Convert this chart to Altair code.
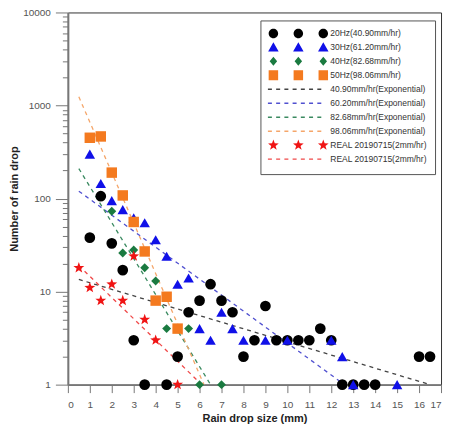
import math
import altair as alt
import pandas as pd

# ---------------- data ----------------
hz20_x = [1, 1.5, 2, 2.5, 3, 3.5, 4.5, 5, 5.5, 6, 6.5, 7, 7.5, 8, 8.5, 9, 9.5, 10, 10.5, 11, 11.5, 12, 12.5, 13, 13.5, 14, 16, 16.5]
hz20_y = [38, 106, 33, 17, 3, 1, 1, 2, 6, 8, 12, 8, 6, 2, 3, 7, 3, 3, 3, 3, 4, 3, 1, 1, 1, 1, 2, 2]

hz30_x = [1, 1.5, 2, 2.5, 3, 3.5, 4, 4.5, 5, 5.5, 6, 6.5, 7, 7.5, 8, 9, 10, 12, 12.5, 13, 15]
hz30_y = [300, 145, 95, 76, 62, 55, 36, 24, 12, 14, 4, 3, 6, 4, 3, 3, 3, 3, 2, 1, 1]

hz40_x = [2, 2.5, 3, 3.5, 4, 4.5, 5.5, 6, 7]
hz40_y = [73, 26, 28, 18, 13, 4, 4, 1, 1]

hz50_x = [1, 1.5, 2, 2.5, 3, 3.5, 4, 4.5, 5]
hz50_y = [450, 465, 190, 108, 56, 27, 8, 8.8, 4]

real_x = [0.5, 1, 1.5, 2, 2.5, 3, 3.5, 4, 5]
real_y = [18, 11, 8, 12, 8, 24, 5, 3, 1]

# exponential trend lines (straight on a log axis): start / end points
fit_names = ["40.90mm/hr(Exponential)", "60.20mm/hr(Exponential)", "82.68mm/hr(Exponential)",
             "98.06mm/hr(Exponential)", "REAL 20190715(2mm/hr) fit"]
fit_x0 = [0.5, 0.5, 0.5, 0.5, 0.5]
fit_y0 = [13.5, 120, 210, 1240, 19]
fit_x1 = [16.5, 12.6, 6.5, 6.2, 6.1]
fit_y1 = [1.0, 1.0, 1.0, 1.0, 1.0]
fit_colors = ["#444444", "#5050d0", "#3a8a60", "#f5a66a", "#f04848"]

legend_names = ["20Hz(40.90mm/hr)", "30Hz(61.20mm/hr)", "40Hz(82.68mm/hr)", "50Hz(98.06mm/hr)",
                "40.90mm/hr(Exponential)", "60.20mm/hr(Exponential)", "82.68mm/hr(Exponential)",
                "98.06mm/hr(Exponential)", "REAL 20190715(2mm/hr)", "REAL 20190715(2mm/hr) fit"]
legend_colors = ["#000000", "#1010e8", "#1a7a40", "#f47a1f",
                 "#444444", "#5050d0", "#3a8a60", "#f5a66a", "#f01414", "#f04848"]

x_ticks = list(range(0, 18))
y_major = [1, 10, 100, 1000, 10000]
y_ticks = sorted(set(y_major + [m * d for d in y_major[:-1] for m in range(2, 10)]))

FONT = "Liberation Sans"

# ---------------- symbol paths ----------------
COLS = [0.0, 5.0, 10.0]
PAD = "M0,-1.33L0,-1.33M0,1.33L0,1.33"


def circ(cx, r=0.95):
    return f"M{cx - r},0A{r},{r} 0 1,0 {cx + r},0A{r},{r} 0 1,0 {cx - r},0Z"


def tri(cx):
    return f"M{cx},-1.05L{cx + 1.05},0.8L{cx - 1.05},0.8Z"


def diam(cx):
    return f"M{cx},-0.9L{cx + 0.75},0L{cx},0.9L{cx - 0.75},0Z"


def sq(cx):
    return f"M{cx - 0.95},-1.0L{cx + 0.95},-1.0L{cx + 0.95},1.0L{cx - 0.95},1.0Z"


def star(cx, R=1.12, r=0.46):
    pts = []
    for k in range(10):
        ang = math.radians(-90 + 36 * k)
        rr = R if k % 2 == 0 else r
        pts.append((cx + rr * math.cos(ang), rr * math.sin(ang)))
    return "M" + "L".join(f"{px:.3f},{py:.3f}" for px, py in pts) + "Z"


def dashes():
    segs = []
    for k in range(7):
        x0 = -1.1 + 1.65 * k
        segs.append(f"M{x0:.2f},-0.14L{x0 + 0.8:.2f},-0.14L{x0 + 0.8:.2f},0.14L{x0:.2f},0.14Z")
    return "".join(segs)


def row(fn):
    return "".join(fn(c) for c in COLS) + PAD


legend_shapes = [row(circ), row(tri), row(diam), row(sq),
                 dashes() + PAD, dashes() + PAD, dashes() + PAD, dashes() + PAD,
                 row(star), dashes() + PAD]
STAR = star(0.0, 1.15, 0.47)

# ---------------- scales / axes ----------------
xscale = alt.Scale(domain=[0, 17], nice=False, zero=False)
yscale = alt.Scale(type="log", domain=[1, 10000], nice=False)

major_test = "indexof([1,10,100,1000,10000], datum.value) >= 0"
x_axis = alt.Axis(title="Rain drop size (mm)", values=x_ticks, format="d", tickSize=8,
                  labelPadding=7, titlePadding=3, grid=False, orient="bottom")
y_axis = alt.Axis(title="Number of rain drop", values=y_ticks, format="d", tickSize=12.5,
                  labelExpr=f"{major_test} ? datum.label : ''", labelOverlap=False,
                  tickDash={"condition": {"test": f"!({major_test})", "value": [5.5, 30]},
                            "value": [14, 1]},
                  labelPadding=5, titlePadding=3, grid=False, orient="left")


def points(xs, ys, shape, color, size):
    df = pd.DataFrame({"x": xs, "y": ys})
    return alt.Chart(df).mark_point(shape=shape, filled=True, opacity=1, size=size, color=color,
                                    strokeWidth=0).encode(
        x=alt.X("x:Q", scale=xscale, axis=x_axis),
        y=alt.Y("y:Q", scale=yscale, axis=y_axis),
    )


layers = []
for i in range(len(fit_names)):
    df = pd.DataFrame({"x": [fit_x0[i], fit_x1[i]], "y": [fit_y0[i], fit_y1[i]]})
    layers.append(alt.Chart(df).mark_line(color=fit_colors[i], strokeDash=[4, 4], strokeWidth=1.3).encode(
        x=alt.X("x:Q", scale=xscale, axis=x_axis),
        y=alt.Y("y:Q", scale=yscale, axis=y_axis),
    ))

layers.append(points(hz20_x, hz20_y, "circle", legend_colors[0], 115))
layers.append(points(hz30_x, hz30_y, "triangle-up", legend_colors[1], 110))
layers.append(points(hz40_x, hz40_y, "diamond", legend_colors[2], 80))
layers.append(points(hz50_x, hz50_y, "square", legend_colors[3], 110))
layers.append(points(real_x, real_y, STAR, legend_colors[8], 100))

legend_df = pd.DataFrame({"series": legend_names})
leg = alt.Legend(title=None, orient="none", legendX=193, legendY=8, padding=8,
                 strokeColor="#555555", fillColor="white", symbolSize=100, symbolStrokeWidth=0,
                 symbolOpacity=1, labelOffset=52, labelFontSize=8.5, labelFont=FONT,
                 labelColor="#333333", rowPadding=0,
                 labelExpr="replace(datum.label, ' fit', '')")
layers.append(alt.Chart(legend_df).mark_point(filled=True, opacity=0).encode(
    color=alt.Color("series:N", scale=alt.Scale(domain=legend_names, range=legend_colors), legend=leg),
    shape=alt.Shape("series:N", scale=alt.Scale(domain=legend_names, range=legend_shapes), legend=leg),
))

chart = alt.layer(*layers).properties(
    width=374, height=373,
    autosize=alt.AutoSizeParams(type="none"),
    padding={"left": 60, "top": 4, "right": 10, "bottom": 45},
).configure_view(
    stroke="#333333", strokeWidth=1
).configure_axis(
    domainColor="#777777", domainWidth=2, tickColor="#777777", tickWidth=1,
    labelColor="#555555", labelFontSize=10, labelFont=FONT,
    titleFont=FONT, titleFontWeight="bold", titleFontSize=11, titleColor="#222222",
)

chart.save("out.html", embed_options={"renderer": "svg", "actions": False})
